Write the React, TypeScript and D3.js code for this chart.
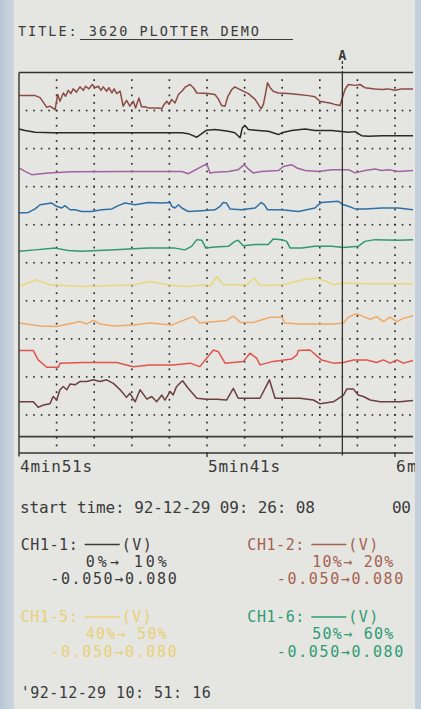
import React from "react";
import * as d3 from "d3";

const W = 421;
const H = 709;

// ---- time axis (seconds) ----
const T_START = 291; // 4min51s
const T_END = 391; // 6min31s
const GRID_STEP_T = 10;
const SUB_STEP_T = 2;
const xTickTimes = [291, 341, 391];
// last label is cut by the paper edge in the original photo ("6m...")
const xTickLabels = ["4min51s", "5min41s", "6m"];
const cursorTime = 377;
const cursorLabel = "A";

// ---- vertical: 10 bands of 10 % ----
const BAND_PCT = 10;
const SUB_STEP_PCT = 2;
const V_MIN = -50; // mV
const V_MAX = 80; // mV

// ---- texts ----
const titleText = "TITLE: 3620 PLOTTER DEMO";
const startTimeText = "start time: 92-12-29 09: 26: 08";
const rightCutText = "00";
const endStampText = "'92-12-29 10: 51: 16";

// ---- channel data: [time s, value mV] ----
const ch1_1: [number, number][] = [[291, 6], [396, 6]];
const ch1_2: [number, number][] = [
  [291, -5], [294.8, -5], [296.1, -24], [297.5, -16], [299.2, -12], [300.1, 13], [301, 1], [301.9, 36],
  [302.8, 47], [303.7, 36], [304.6, 56], [305.9, 53], [307.2, 64], [309, 64], [310.8, 70], [312.5, 64],
  [314.3, 70], [316.1, 58], [317.9, 36], [319.6, 10], [320.5, 24], [321.9, -5], [323.2, 36], [325, 4],
  [326.3, 13], [327.6, -5], [329, 18], [329.8, 1], [331.2, 30], [332, 18], [332.9, 47], [334.5, 67],
  [336, 41], [338.3, 7], [340.9, 4], [343.6, 4], [346.2, 1], [348, 41], [349.3, 7], [351.6, 7],
  [355.1, 7], [357.6, 70], [359.1, 7], [365.7, 7], [369.3, 1], [371.1, -12], [374.6, -5], [377.3, 18],
  [378.2, 39], [379.9, 39], [381.2, 18], [382.6, 13], [384.4, 1], [387, -5], [392.3, -5], [396, -1],
];
const ch1_3: [number, number][] = [
  [291, 40], [294.8, 40], [296.1, 8], [298.4, -17], [301.5, -17], [301.9, -3], [308.1, -1], [317, -1],
  [321.4, -15], [325.8, -9], [332, -9], [336.5, -3], [339.1, -15], [340.9, 14], [342.7, 42], [344, 36],
  [345.8, -3], [350.7, 3], [352.4, 31], [354.2, 14], [355.1, -9], [358.6, 3], [363.5, 11], [364.9, 25],
  [365.3, 40], [368.4, 42], [370.2, 22], [371.5, 8], [374.6, -3], [377.3, -1], [379.9, 8], [383.5, 8],
  [386.1, -1], [387.9, 8], [389.7, -3], [391.5, 8], [393.2, -3], [396, 6],
];
const ch1_4: [number, number][] = [
  [291, 4], [296.6, -6], [301, -8], [305.4, 4], [307.2, 9], [309, 1], [310.8, 13], [312.5, 1],
  [316.1, -6], [321.4, -3], [325.8, 4], [331.6, -3], [336, 20], [337.4, 26], [339.1, 4], [346.2, 13],
  [348, 28], [349.8, 7], [353.3, 6], [357.8, 24], [360.9, 24], [361.7, 4], [365.7, 1], [374.6, 1],
  [377.3, 4], [378.6, 24], [380.8, 36], [382.6, 26], [384.4, 17], [386.1, 26], [387.9, 9], [389.7, 24],
  [391.5, 9], [393.2, 20], [396, 29],
];
const ch1_5: [number, number][] = [
  [291, -1], [295.7, 22], [299.2, 5], [308, -1], [321.4, 5], [325, 13], [325.8, 16], [330.3, 5],
  [335.6, -1], [340.9, 5], [341.8, -1], [343.6, 33], [345.3, 5], [351.6, 5], [353.5, 28], [355.1, 2],
  [361.3, 5], [366.6, 22], [370.2, 28], [372.8, 16], [374.6, 5], [377.3, 11], [383.5, 8], [396, 8],
];
const ch1_6: [number, number][] = [
  [291, -11], [295.3, -6], [300.6, 0], [304.1, -8], [307.7, -11], [316.5, -6], [325.4, 0], [332.5, 0],
  [335.1, -6], [336.9, 6], [338.3, 29], [339.6, 27], [340.7, 0], [343.1, 4], [346.7, 6], [348.4, 23],
  [349.3, 27], [350.6, 8], [353.8, 12], [357.3, 12], [358.6, 31], [360.9, 29], [362.2, 23], [363.1, 0],
  [366.2, 0], [369.7, 6], [374.2, 6], [377.3, 2], [381.2, 6], [383, 23], [385.7, 29], [391.9, 27],
  [396, 29],
];
const ch1_7: [number, number][] = [
  [291, -10], [293.5, -8], [295.3, 4], [296.6, 18], [299.7, 24], [301, 13], [302.4, 7], [303.2, 15],
  [304.6, 1], [305.9, 1], [307.7, -5], [310.3, -5], [313, 1], [315.7, 4], [317.4, 15], [319.2, 24],
  [321.9, 18], [325.4, 26], [329, 24], [331.2, 26], [331.6, 13], [332.5, 7], [333.4, 18], [334.3, 7],
  [336, -5], [339.6, -2], [343.1, 1], [344.5, 13], [345.3, 26], [346.2, 24], [347.1, 4], [350.2, 1],
  [353.8, 7], [355.4, 26], [356.3, 18], [357.1, 1], [360.9, 1], [365.3, -5], [369.7, 7], [370.6, 18],
  [371.5, 26], [375.9, 30], [377.3, 18], [378.6, 13], [380.4, 4], [383, 4], [387.5, 7], [391.9, 7],
  [396, 1],
];
const ch1_8: [number, number][] = [
  [291, 14], [292.6, 2], [294.4, -9], [298.8, -3], [305, 1], [320, 2], [334.3, 2], [336, -6],
  [338.3, 10], [340.5, 25], [341.2, 19], [341.8, -3], [343.1, -1], [346.7, 2], [349.3, 8], [350.9, 25],
  [352, 10], [353.3, -3], [355.5, 2], [360, 5], [361.3, 19], [363.5, 25], [364.9, 14], [367.1, 5],
  [370.6, 2], [374.2, 8], [378.6, 8], [380.4, -3], [383, 5], [385.7, 10], [387.5, 5], [389.2, 8],
  [391.9, 2], [396, 5],
];
const ch1_9: [number, number][] = [
  [291, 17], [292.6, 12], [295.3, 6], [300, 4], [334.3, 4], [336, 1], [338.3, -11], [339.6, 1],
  [340.9, 13], [343.1, 15], [346.7, 9], [348.4, 4], [349.8, -13], [350.4, 21], [351.1, 29], [352, 15],
  [353.8, 13], [357.3, 9], [360, -2], [360.9, 4], [363.5, 12], [367.1, 17], [369.7, 12], [374.2, 12],
  [378.6, 6], [380.4, 8], [382.1, -6], [383.9, -8], [387.5, -6], [396, -6],
];
const ch1_10: [number, number][] = [
  [291, 1], [295.3, 1], [296.6, -6], [298.4, -39], [299.2, -35], [300.6, -47], [301.3, 5], [301.9, -18],
  [302.8, 10], [303.4, -1], [304.1, 19], [304.8, 8], [305.4, 24], [306.3, 13], [307.2, 31], [308.1, 19],
  [308.7, 33], [309.6, 24], [310.5, 39], [311.2, 28], [312.1, 33], [312.8, 19], [313.4, 31], [314.3, 16],
  [314.9, 28], [315.7, 10], [316.3, 24], [317, 8], [317.9, 16], [318.7, -35], [319.6, -15], [320.5, -35],
  [321.4, -18], [322, -41], [322.9, -7], [323.6, -37], [324.5, -37], [325.4, -41], [328, -41], [329, -44],
  [329.4, -33], [330.3, -18], [330.9, -29], [331.6, -12], [332.5, -24], [333.4, 5], [334.3, 16], [335.3, 31],
  [336.5, 39], [337.4, 28], [338.3, 10], [341.3, 8], [343.1, 5], [344, -10], [344.9, -33], [345.8, -35],
  [346.5, -3], [347.6, 22], [348.4, 31], [350.2, 19], [352, 8], [353.8, -12], [355.4, -44], [356, -29],
  [356.6, 10], [357.1, 45], [357.8, 28], [358.6, 16], [360, 10], [362.6, 8], [365.3, 5], [368, 1],
  [369.7, -3], [371, -18], [372.4, -22], [373.7, -24], [375, -29], [376.4, -33], [377, -7], [377.7, 22],
  [378.6, 39], [380.4, 36], [381.7, 39], [383, 28], [385.7, 24], [387.5, 22], [389.2, 24], [391, 19],
  [392.8, 24], [396, 24],
];

const channelIds = ["CH1-1", "CH1-2", "CH1-3", "CH1-4", "CH1-5", "CH1-6", "CH1-7", "CH1-8", "CH1-9", "CH1-10"];
const channelBandLow = [0, 10, 20, 30, 40, 50, 60, 70, 80, 90];
const channelColors = [
  "#3d3d3d", "#6e3d3f", "#e0544b", "#f0a866", "#ead67c",
  "#2f9a70", "#2f6fa8", "#a063a2", "#2a2a2a", "#8b4b43",
];
const channelData = [ch1_1, ch1_2, ch1_3, ch1_4, ch1_5, ch1_6, ch1_7, ch1_8, ch1_9, ch1_10];

// ---- legend ----
const legendChannels = ["CH1-1", "CH1-2", "CH1-5", "CH1-6"];
const legendUnit = "(V)";
const legendPctRanges = ["0%\u2192 10%", "10%\u2192 20%", "40%\u2192 50%", "50%\u2192 60%"];
const legendVoltRanges = ["-0.050\u21920.080", "-0.050\u21920.080", "-0.050\u21920.080", "-0.050\u21920.080"];
const legendColors = ["#3a3a3a", "#a5624f", "#e9d077", "#2f9c72"];

// ---- layout ----
const PLOT_L = 19;
const PLOT_R_END = 413;
const PLOT_TOP = 72.5;
const PLOT_BOTTOM = 453;
const PAPER_L = 14;
const PAPER_R = 415;
const FONT = "'DejaVu Sans Mono', monospace";
const INK = "#3b3b3b";

export default function App() {
  const x = d3.scaleLinear().domain([T_START, T_END]).range([PLOT_L, 395]);
  const y = d3.scaleLinear().domain([0, 100]).range([PLOT_BOTTOM, PLOT_TOP]);
  const tMax = x.invert(PLOT_R_END);

  const gridTimes = d3.range(T_START + GRID_STEP_T, tMax, GRID_STEP_T);
  const gridPcts = d3.range(BAND_PCT, 100, BAND_PCT);
  const subTimes = d3.range(T_START + SUB_STEP_T, tMax, SUB_STEP_T);
  const subPcts = d3.range(SUB_STEP_PCT, 100, SUB_STEP_PCT);

  const lines = channelData.map((data, i) => {
    const vToPct = d3.scaleLinear().domain([V_MIN, V_MAX]).range([channelBandLow[i], channelBandLow[i] + BAND_PCT]);
    const gen = d3
      .line<[number, number]>()
      .x((d) => x(Math.min(d[0], tMax)))
      .y((d) => y(vToPct(d[1])));
    return gen(data) || "";
  });

  const cx = x(cursorTime);

  const legendCol = [20.7, 247.3];
  const legendRow = [549.5, 622];

  return (
    <svg
      width={W}
      height={H}
      viewBox={`0 0 ${W} ${H}`}
      style={{ position: "absolute", left: 0, top: 0 }}
      fontFamily={FONT}
    >
      <defs>
        <clipPath id="paper">
          <rect x={PAPER_L} y={0} width={PAPER_R - PAPER_L} height={H} />
        </clipPath>
        <linearGradient id="edgeL" x1="0" x2="1" y1="0" y2="0">
          <stop offset="0" stopColor="#b9c6d3" />
          <stop offset="1" stopColor="#cdd6de" />
        </linearGradient>
      </defs>
      <rect x={0} y={0} width={W} height={H} fill="#c3cfda" />
      <rect x={0} y={0} width={PAPER_L} height={H} fill="url(#edgeL)" />
      <rect x={PAPER_L} y={0} width={PAPER_R - PAPER_L} height={H} fill="#e5e6e2" />

      <g clipPath="url(#paper)">
        {/* title */}
        <text x={18} y={36} fontSize={13.5} fill={INK} textLength={241} lengthAdjust="spacing">
          {titleText}
        </text>
        <line x1={80} x2={293} y1={39.5} y2={39.5} stroke={INK} strokeWidth={1.2} />

        {/* grid dots */}
        <g fill="#2a2a2a">
          {gridPcts.map((p) =>
            subTimes.map((t) => (
              <rect key={`h${p}-${t}`} x={x(t) - 0.8} y={y(p) - 0.8} width={1.6} height={1.6} />
            ))
          )}
          {gridTimes.map((t) =>
            subPcts.map((p) => (
              <rect key={`v${t}-${p}`} x={x(t) - 0.8} y={y(p) - 0.9} width={1.6} height={1.8} />
            ))
          )}
        </g>

        {/* traces */}
        {lines.map((d, i) => (
          <path
            key={channelIds[i]}
            d={d}
            fill="none"
            stroke={channelColors[i]}
            strokeWidth={i === 0 ? 1.6 : 1.5}
            strokeLinejoin="round"
          />
        ))}

        {/* frame */}
        <g stroke="#333" strokeWidth={1.4}>
          <line x1={PLOT_L} x2={PLOT_R_END} y1={PLOT_TOP} y2={PLOT_TOP} />
          <line x1={PLOT_L} x2={PLOT_R_END} y1={PLOT_BOTTOM} y2={PLOT_BOTTOM} />
          <line x1={PLOT_L} x2={PLOT_L} y1={PLOT_TOP} y2={PLOT_BOTTOM + 3.5} />
          {xTickTimes.slice(1).map((t) => (
            <line key={t} x1={x(t)} x2={x(t)} y1={PLOT_BOTTOM - 1} y2={PLOT_BOTTOM + 4} />
          ))}
        </g>

        {/* cursor A */}
        <line x1={cx} x2={cx} y1={61} y2={PLOT_TOP} stroke="#333" strokeWidth={1.3} strokeDasharray="3,2" />
        <line x1={cx} x2={cx} y1={PLOT_TOP} y2={PLOT_BOTTOM + 2.5} stroke="#333" strokeWidth={1.3} />
        <text x={cx} y={59.5} fontSize={13.5} fontWeight={600} fill={INK} textAnchor="middle">
          {cursorLabel}
        </text>

        {/* x tick labels */}
        {xTickTimes.map((t, i) => (
          <text
            key={t}
            x={x(t) + 1}
            y={472}
            fontSize={16}
            fill={INK}
            textLength={xTickLabels[i].length * 10.3}
            lengthAdjust="spacing"
          >
            {xTickLabels[i]}
          </text>
        ))}

        {/* start time */}
        <text x={20} y={512.5} fontSize={16} fill={INK} textLength={295} lengthAdjust="spacing">
          {startTimeText}
        </text>
        <text x={392} y={512.5} fontSize={16} fill={INK} textLength={19} lengthAdjust="spacing">
          {rightCutText}
        </text>

        {/* legend */}
        {legendChannels.map((name, i) => {
          const lx = legendCol[i % 2];
          const ly = legendRow[Math.floor(i / 2)];
          const c = legendColors[i];
          return (
            <g key={name} fill={c}>
              <text x={lx} y={ly} fontSize={15} textLength={57} lengthAdjust="spacing">
                {name + ":"}
              </text>
              <line x1={lx + 64} x2={lx + 99} y1={ly - 5} y2={ly - 5} stroke={c} strokeWidth={1.3} />
              <text x={lx + 101} y={ly} fontSize={15} textLength={30} lengthAdjust="spacing">
                {legendUnit}
              </text>
              <text x={lx + 65} y={ly + 17.3} fontSize={15} textLength={81} lengthAdjust="spacing">
                {legendPctRanges[i]}
              </text>
              <text x={lx + 29.5} y={ly + 34.8} fontSize={15} textLength={126.5} lengthAdjust="spacing">
                {legendVoltRanges[i]}
              </text>
            </g>
          );
        })}

        {/* end stamp */}
        <text x={20.7} y={697.5} fontSize={15} fill={INK} textLength={190} lengthAdjust="spacing">
          {endStampText}
        </text>
      </g>
    </svg>
  );
}
